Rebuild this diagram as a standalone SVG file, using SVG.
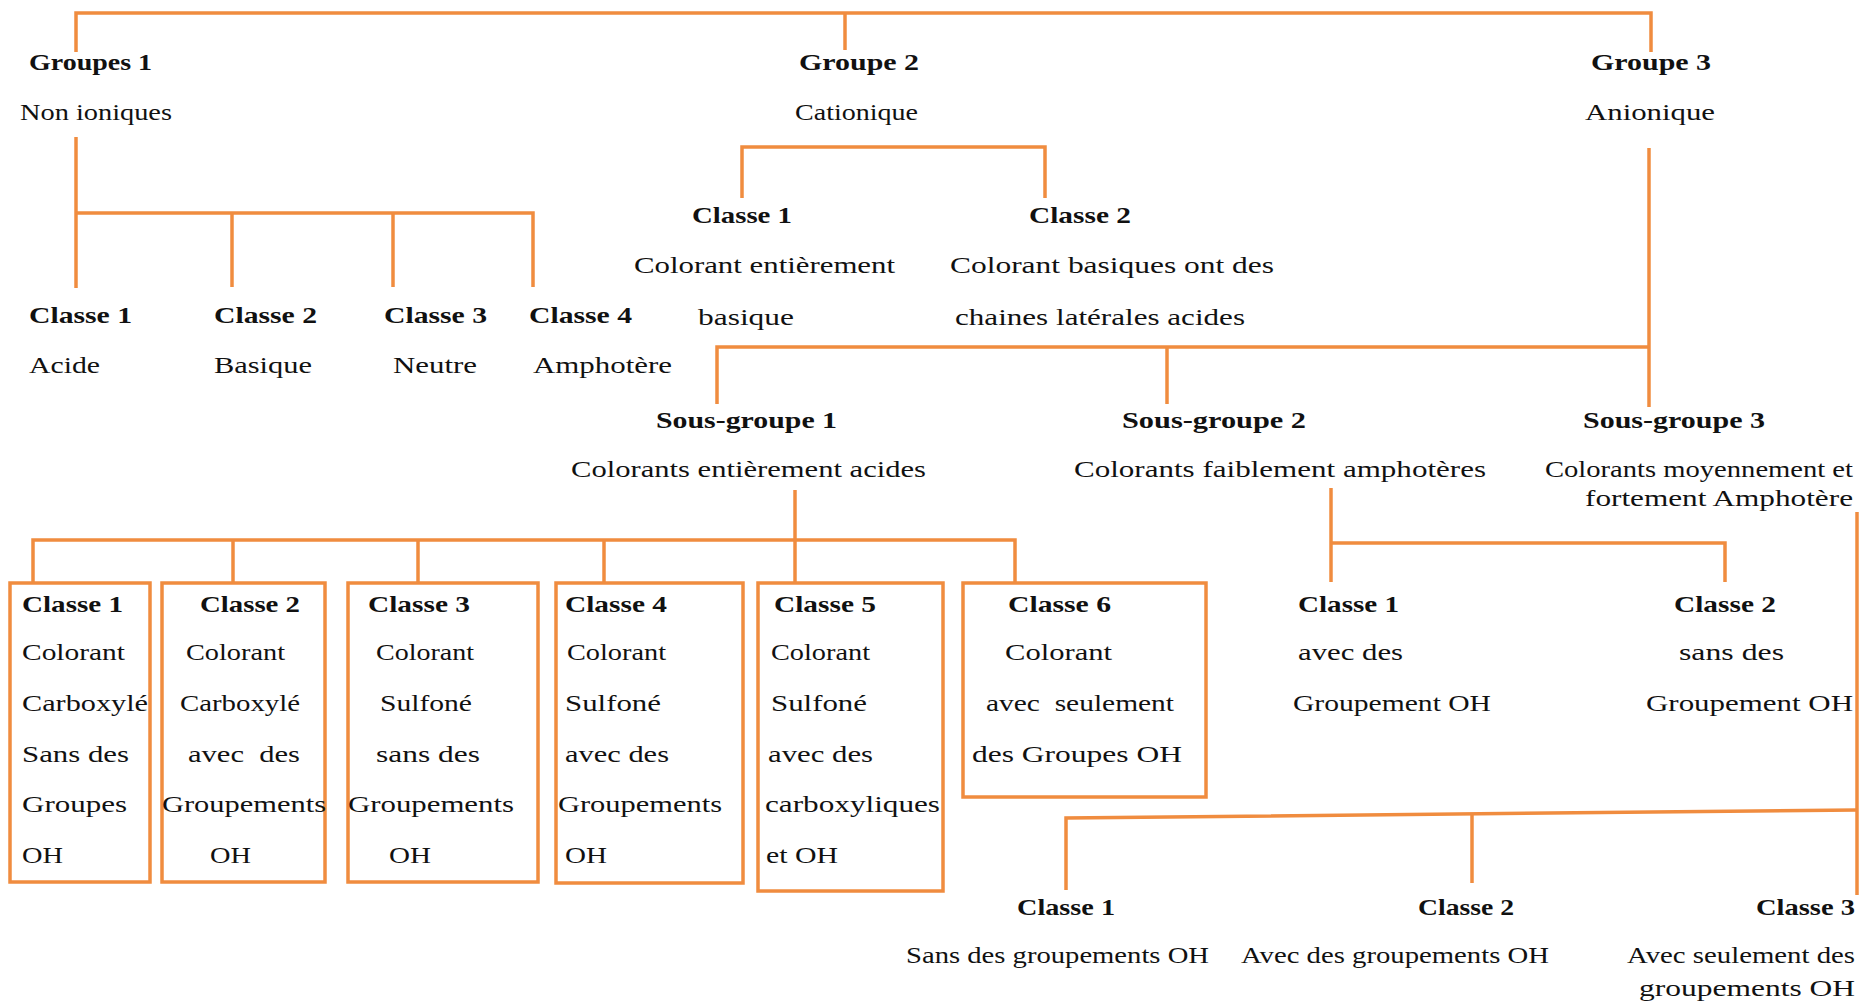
<svg xmlns="http://www.w3.org/2000/svg" width="1876" height="1001" viewBox="0 0 1876 1001">
<style>
text{font-family:"Liberation Serif","Times New Roman",serif;font-size:24px;fill:#111}
.b{font-weight:bold}
.c{fill:none;stroke:#F08C3F;stroke-width:3.5;stroke-linejoin:miter;stroke-linecap:butt}
.box{fill:#fff;stroke:#F08C3F;stroke-width:3.5}
</style>
<rect width="1876" height="1001" fill="#fff"/>
<g id="connectors">
<path class="c" d="M76,52 V13 H1651 V52"/>
<path class="c" d="M845,13 V50"/>
<path class="c" d="M76,137 V288"/>
<path class="c" d="M76,213 H533 V287"/>
<path class="c" d="M232,213 V287"/>
<path class="c" d="M393,213 V287"/>
<path class="c" d="M742,198 V147 H1045 V198"/>
<path class="c" d="M1649,148 V407"/>
<path class="c" d="M717,404 V347 H1649"/>
<path class="c" d="M1167,347 V404"/>
<path class="c" d="M795,490 V583"/>
<path class="c" d="M33,583 V540 H1015 V583"/>
<path class="c" d="M233,540 V583"/>
<path class="c" d="M418,540 V583"/>
<path class="c" d="M604,540 V583"/>
<path class="c" d="M1331,488 V582"/>
<path class="c" d="M1331,543 H1725 V582"/>
<path class="c" d="M1857,512 V895"/>
<path class="c" d="M1066,890 V818 L1857,810"/>
<path class="c" d="M1472,814 V883"/>
</g>
<g id="groupe1">
<text class="b" x="29" y="70" textLength="123" lengthAdjust="spacingAndGlyphs">Groupes 1</text>
<text x="20" y="120" textLength="152" lengthAdjust="spacingAndGlyphs">Non ioniques</text>
</g>
<g id="groupe2">
<text class="b" x="799" y="70" textLength="120" lengthAdjust="spacingAndGlyphs">Groupe 2</text>
<text x="795" y="120" textLength="123" lengthAdjust="spacingAndGlyphs">Cationique</text>
</g>
<g id="groupe3">
<text class="b" x="1591" y="70" textLength="120" lengthAdjust="spacingAndGlyphs">Groupe 3</text>
<text x="1585" y="120" textLength="130" lengthAdjust="spacingAndGlyphs">Anionique</text>
</g>
<g id="g1-classe1">
<text class="b" x="29" y="323" textLength="103" lengthAdjust="spacingAndGlyphs">Classe 1</text>
<text x="29" y="373" textLength="71" lengthAdjust="spacingAndGlyphs">Acide</text>
</g>
<g id="g1-classe2">
<text class="b" x="214" y="323" textLength="103" lengthAdjust="spacingAndGlyphs">Classe 2</text>
<text x="214" y="373" textLength="98" lengthAdjust="spacingAndGlyphs">Basique</text>
</g>
<g id="g1-classe3">
<text class="b" x="384" y="323" textLength="103" lengthAdjust="spacingAndGlyphs">Classe 3</text>
<text x="393" y="373" textLength="84" lengthAdjust="spacingAndGlyphs">Neutre</text>
</g>
<g id="g1-classe4">
<text class="b" x="529" y="323" textLength="103" lengthAdjust="spacingAndGlyphs">Classe 4</text>
<text x="533" y="373" textLength="139" lengthAdjust="spacingAndGlyphs">Amphotère</text>
</g>
<g id="g2-classe1">
<text class="b" x="692" y="223" textLength="100" lengthAdjust="spacingAndGlyphs">Classe 1</text>
<text x="634" y="273" textLength="261" lengthAdjust="spacingAndGlyphs">Colorant entièrement</text>
<text x="698" y="325" textLength="96" lengthAdjust="spacingAndGlyphs">basique</text>
</g>
<g id="g2-classe2">
<text class="b" x="1029" y="223" textLength="102" lengthAdjust="spacingAndGlyphs">Classe 2</text>
<text x="950" y="273" textLength="324" lengthAdjust="spacingAndGlyphs">Colorant basiques ont des</text>
<text x="955" y="325" textLength="290" lengthAdjust="spacingAndGlyphs">chaines latérales acides</text>
</g>
<g id="sous-groupe1">
<text class="b" x="656" y="428" textLength="181" lengthAdjust="spacingAndGlyphs">Sous-groupe 1</text>
<text x="571" y="477" textLength="355" lengthAdjust="spacingAndGlyphs">Colorants entièrement acides</text>
</g>
<g id="sous-groupe2">
<text class="b" x="1122" y="428" textLength="184" lengthAdjust="spacingAndGlyphs">Sous-groupe 2</text>
<text x="1074" y="477" textLength="412" lengthAdjust="spacingAndGlyphs">Colorants faiblement amphotères</text>
</g>
<g id="sous-groupe3">
<text class="b" x="1583" y="428" textLength="182" lengthAdjust="spacingAndGlyphs">Sous-groupe 3</text>
<text x="1545" y="477" textLength="308" lengthAdjust="spacingAndGlyphs">Colorants moyennement et</text>
<text x="1585" y="506" textLength="268" lengthAdjust="spacingAndGlyphs">fortement Amphotère</text>
</g>
<g id="sg1-classe1">
<rect class="box" x="10" y="583" width="140" height="299"/>
<text class="b" x="22" y="612" textLength="101" lengthAdjust="spacingAndGlyphs">Classe 1</text>
<text x="22" y="660" textLength="103" lengthAdjust="spacingAndGlyphs">Colorant</text>
<text x="22" y="711" textLength="126" lengthAdjust="spacingAndGlyphs">Carboxylé</text>
<text x="22" y="762" textLength="107" lengthAdjust="spacingAndGlyphs">Sans des</text>
<text x="22" y="812" textLength="105" lengthAdjust="spacingAndGlyphs">Groupes</text>
<text x="22" y="863" textLength="41" lengthAdjust="spacingAndGlyphs">OH</text>
</g>
<g id="sg1-classe2">
<rect class="box" x="162" y="583" width="163" height="299"/>
<text class="b" x="200" y="612" textLength="100" lengthAdjust="spacingAndGlyphs">Classe 2</text>
<text x="186" y="660" textLength="99" lengthAdjust="spacingAndGlyphs">Colorant</text>
<text x="180" y="711" textLength="120" lengthAdjust="spacingAndGlyphs">Carboxylé</text>
<text x="188" y="762" textLength="112" lengthAdjust="spacingAndGlyphs">avec&#160; des</text>
<text x="162" y="812" textLength="164" lengthAdjust="spacingAndGlyphs">Groupements</text>
<text x="210" y="863" textLength="41" lengthAdjust="spacingAndGlyphs">OH</text>
</g>
<g id="sg1-classe3">
<rect class="box" x="348" y="583" width="190" height="299"/>
<text class="b" x="368" y="612" textLength="102" lengthAdjust="spacingAndGlyphs">Classe 3</text>
<text x="376" y="660" textLength="98" lengthAdjust="spacingAndGlyphs">Colorant</text>
<text x="380" y="711" textLength="92" lengthAdjust="spacingAndGlyphs">Sulfoné</text>
<text x="376" y="762" textLength="104" lengthAdjust="spacingAndGlyphs">sans des</text>
<text x="348" y="812" textLength="166" lengthAdjust="spacingAndGlyphs">Groupements</text>
<text x="389" y="863" textLength="42" lengthAdjust="spacingAndGlyphs">OH</text>
</g>
<g id="sg1-classe4">
<rect class="box" x="556" y="583" width="187" height="300"/>
<text class="b" x="565" y="612" textLength="102" lengthAdjust="spacingAndGlyphs">Classe 4</text>
<text x="567" y="660" textLength="99" lengthAdjust="spacingAndGlyphs">Colorant</text>
<text x="565" y="711" textLength="96" lengthAdjust="spacingAndGlyphs">Sulfoné</text>
<text x="565" y="762" textLength="104" lengthAdjust="spacingAndGlyphs">avec des</text>
<text x="558" y="812" textLength="164" lengthAdjust="spacingAndGlyphs">Groupements</text>
<text x="565" y="863" textLength="42" lengthAdjust="spacingAndGlyphs">OH</text>
</g>
<g id="sg1-classe5">
<rect class="box" x="758" y="583" width="185" height="308"/>
<text class="b" x="774" y="612" textLength="102" lengthAdjust="spacingAndGlyphs">Classe 5</text>
<text x="771" y="660" textLength="99" lengthAdjust="spacingAndGlyphs">Colorant</text>
<text x="771" y="711" textLength="96" lengthAdjust="spacingAndGlyphs">Sulfoné</text>
<text x="768" y="762" textLength="105" lengthAdjust="spacingAndGlyphs">avec des</text>
<text x="765" y="812" textLength="175" lengthAdjust="spacingAndGlyphs">carboxyliques</text>
<text x="766" y="863" textLength="72" lengthAdjust="spacingAndGlyphs">et OH</text>
</g>
<g id="sg1-classe6">
<rect class="box" x="963" y="583" width="243" height="214"/>
<text class="b" x="1008" y="612" textLength="103" lengthAdjust="spacingAndGlyphs">Classe 6</text>
<text x="1005" y="660" textLength="107" lengthAdjust="spacingAndGlyphs">Colorant</text>
<text x="986" y="711" textLength="188" lengthAdjust="spacingAndGlyphs">avec&#160; seulement</text>
<text x="972" y="762" textLength="210" lengthAdjust="spacingAndGlyphs">des Groupes OH</text>
</g>
<g id="sg2-classe1">
<text class="b" x="1298" y="612" textLength="101" lengthAdjust="spacingAndGlyphs">Classe 1</text>
<text x="1298" y="660" textLength="105" lengthAdjust="spacingAndGlyphs">avec des</text>
<text x="1293" y="711" textLength="198" lengthAdjust="spacingAndGlyphs">Groupement OH</text>
</g>
<g id="sg2-classe2">
<text class="b" x="1674" y="612" textLength="102" lengthAdjust="spacingAndGlyphs">Classe 2</text>
<text x="1679" y="660" textLength="105" lengthAdjust="spacingAndGlyphs">sans des</text>
<text x="1646" y="711" textLength="207" lengthAdjust="spacingAndGlyphs">Groupement OH</text>
</g>
<g id="sg3-classe1">
<text class="b" x="1017" y="915" textLength="98" lengthAdjust="spacingAndGlyphs">Classe 1</text>
<text x="906" y="963" textLength="303" lengthAdjust="spacingAndGlyphs">Sans des groupements OH</text>
</g>
<g id="sg3-classe2">
<text class="b" x="1418" y="915" textLength="96" lengthAdjust="spacingAndGlyphs">Classe 2</text>
<text x="1241" y="963" textLength="308" lengthAdjust="spacingAndGlyphs">Avec des groupements OH</text>
</g>
<g id="sg3-classe3">
<text class="b" x="1756" y="915" textLength="99" lengthAdjust="spacingAndGlyphs">Classe 3</text>
<text x="1627" y="963" textLength="228" lengthAdjust="spacingAndGlyphs">Avec seulement des</text>
<text x="1639" y="996" textLength="216" lengthAdjust="spacingAndGlyphs">groupements OH</text>
</g>
</svg>
